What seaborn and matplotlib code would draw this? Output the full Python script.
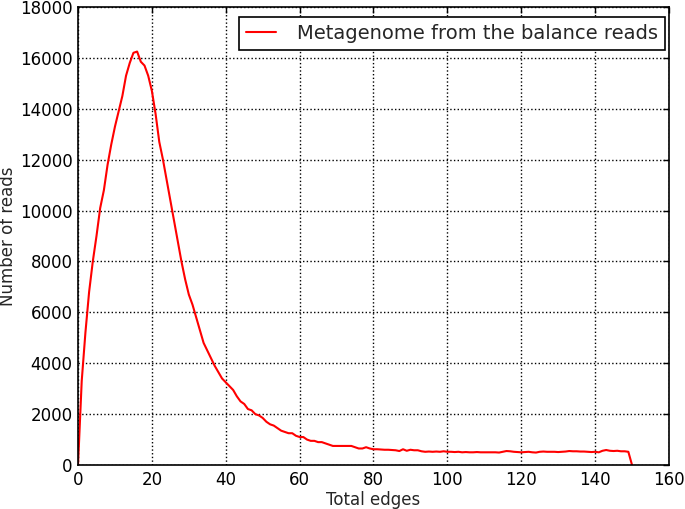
import numpy as np
import pandas as pd
import matplotlib
matplotlib.use("Agg")
import matplotlib.pyplot as plt
import seaborn as sns

sns.set_theme(style="white")
plt.rcParams['font.family'] = ['DejaVu Sans']

series_name = "Metagenome from the balance reads"
x_label = "Total edges"
y_label = "Number of reads"

edges = list(range(0, 151))
reads = [
    0, 3300, 5200, 6800, 8000, 9000, 10100, 10800, 11800, 12600,
    13300, 13900, 14500, 15300, 15800, 16200, 16250, 15850, 15700, 15300,
    14700, 13800, 12700, 12000, 11200, 10400, 9600, 8800, 8000, 7300,
    6700, 6300, 5800, 5300, 4800, 4500, 4200, 3900, 3650, 3400,
    3250, 3100, 2950, 2700, 2500, 2400, 2200, 2150, 2000, 1950,
    1850, 1700, 1600, 1550, 1450, 1350, 1300, 1250, 1250, 1150,
    1100, 1100, 1000, 950, 950, 900, 900, 850, 800, 750,
    750, 750, 750, 750, 750, 700, 650, 650, 700, 650,
    620, 620, 610, 600, 600, 590, 580, 550, 620, 560,
    600, 580, 580, 540, 520, 530, 520, 530, 520, 540,
    520, 520, 510, 520, 500, 510, 500, 500, 510, 500,
    500, 500, 500, 500, 490, 520, 550, 540, 520, 510,
    500, 510, 520, 500, 490, 520, 530, 520, 520, 520,
    510, 520, 530, 550, 540, 540, 530, 530, 520, 510,
    520, 500, 560, 590, 560, 550, 560, 540, 540, 520,
    0,
]

df = pd.DataFrame({"edges": edges, "reads": reads, "series": series_name})

fig = plt.figure(figsize=(6.85, 5.09), dpi=100)
ax = fig.add_axes([0.1139, 0.0864, 0.8627, 0.8998])

sns.lineplot(data=df, x="edges", y="reads", hue="series", palette=["#ff0000"],
             linewidth=1.5, ax=ax)

ax.set_xlim(0, 160)
ax.set_ylim(0, 18000)
ax.set_xticks(np.arange(0, 161, 20))
ax.set_yticks(np.arange(0, 18001, 2000))
ax.set_xlabel(x_label, fontsize=12, labelpad=2)
ax.set_ylabel(y_label, fontsize=12, labelpad=2)
ax.tick_params(axis='both', which='major', direction='in', length=4, width=1,
               colors='black', labelsize=12, top=True, right=True, pad=4)
for s in ax.spines.values():
    s.set_color('black')
    s.set_linewidth(1.2)
ax.grid(True, linestyle=':', color='black', linewidth=1)

leg = ax.legend(loc='upper right', bbox_to_anchor=(0.9932, 0.978), borderaxespad=0,
                fontsize=14, frameon=True, fancybox=False, edgecolor='black',
                handlelength=1.55, handletextpad=1.1, borderpad=0.35)
leg.get_frame().set_linewidth(1.2)
leg.get_frame().set_alpha(1)

fig.savefig("out.png", dpi=100)
